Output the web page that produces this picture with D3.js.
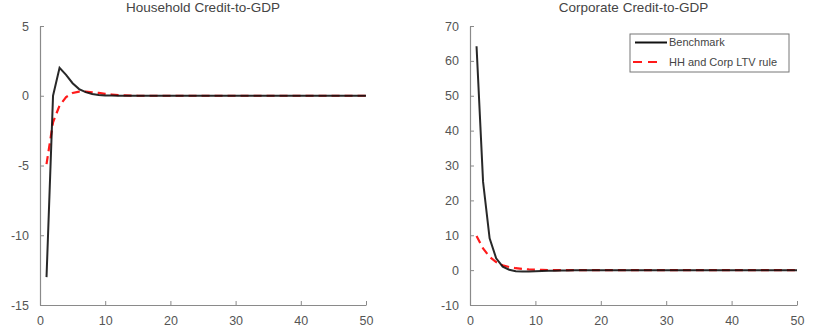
<!DOCTYPE html>
<html><head><meta charset="utf-8">
<script src="https://cdn.jsdelivr.net/npm/d3@7"></script>
<style>
body{margin:0;background:#fff;}
text{font-family:"Liberation Sans",Arial,sans-serif;}
</style></head>
<body><svg id="c" width="814" height="330"></svg>
<script>
const periods = d3.range(1, 51);
const hhBenchmark = [-13, 0, 2.0, 1.5, 0.9, 0.48, 0.26, 0.12, 0.05, 0.02, 0.01, 0, 0, 0, 0, 0, 0, 0, 0, 0,
  0, 0, 0, 0, 0, 0, 0, 0, 0, 0, 0, 0, 0, 0, 0, 0, 0, 0, 0, 0, 0, 0, 0, 0, 0, 0, 0, 0, 0, 0];
const hhLTV = [-4.9, -1.9, -0.7, -0.1, 0.2, 0.3, 0.3, 0.25, 0.2, 0.14, 0.09, 0.05, 0.03, 0.01, 0, 0, 0, 0, 0, 0,
  0, 0, 0, 0, 0, 0, 0, 0, 0, 0, 0, 0, 0, 0, 0, 0, 0, 0, 0, 0, 0, 0, 0, 0, 0, 0, 0, 0, 0, 0];
const corpBenchmark = [64.2, 25.3, 9.1, 3.4, 1.0, 0.1, -0.3, -0.4, -0.4, -0.3, -0.25, -0.2, -0.15, -0.1, -0.1, -0.05, 0, 0, 0, 0,
  0, 0, 0, 0, 0, 0, 0, 0, 0, 0, 0, 0, 0, 0, 0, 0, 0, 0, 0, 0, 0, 0, 0, 0, 0, 0, 0, 0, 0, 0];
const corpLTV = [9.8, 6.2, 3.8, 2.3, 1.4, 0.9, 0.55, 0.35, 0.2, 0.12, 0.07, 0.04, 0.02, 0.01, 0, 0, 0, 0, 0, 0,
  0, 0, 0, 0, 0, 0, 0, 0, 0, 0, 0, 0, 0, 0, 0, 0, 0, 0, 0, 0, 0, 0, 0, 0, 0, 0, 0, 0, 0, 0];
const xTicks = [0, 10, 20, 30, 40, 50];
const hhYTicks = [-15, -10, -5, 0, 5];
const corpYTicks = [-10, 0, 10, 20, 30, 40, 50, 60, 70];
const titles = ["Household Credit-to-GDP", "Corporate Credit-to-GDP"];
const legendLabels = ["Benchmark", "HH and Corp LTV rule"];

const svg = d3.select("#c");
const panels = [
  {title: titles[0], bench: hhBenchmark, ltv: hhLTV, yDomain: [-15, 5], yTicks: hhYTicks, x0: 40, x1: 366, legend: false},
  {title: titles[1], bench: corpBenchmark, ltv: corpLTV, yDomain: [-10, 70], yTicks: corpYTicks, x0: 470, x1: 797, legend: true}
];
const plotTop = 26, plotBottom = 305;
const fmt = d => String(d);

panels.forEach(p => {
  const x = d3.scaleLinear().domain([0, 50]).range([p.x0, p.x1]);
  const y = d3.scaleLinear().domain(p.yDomain).range([plotBottom, plotTop]);
  const g = svg.append("g");

  const xAxis = d3.axisBottom(x).tickValues(xTicks).tickFormat(fmt).tickSizeInner(-4).tickSizeOuter(0).tickPadding(11);
  const yAxis = d3.axisLeft(y).tickValues(p.yTicks).tickFormat(fmt).tickSizeInner(-4).tickSizeOuter(0).tickPadding(11);
  const gx = g.append("g").attr("transform", `translate(0,${plotBottom})`).call(xAxis);
  const gy = g.append("g").attr("transform", `translate(${p.x0},0)`).call(yAxis);
  [gx, gy].forEach(a => {
    a.select(".domain").attr("stroke", "#8a8a8a").attr("stroke-width", 1.2);
    a.selectAll(".tick line").attr("stroke", "#8a8a8a");
    a.selectAll(".tick text").attr("fill", "#555").style("font-size", "12.5px");
  });

  g.append("text").attr("x", (p.x0 + p.x1) / 2).attr("y", 12).attr("text-anchor", "middle")
    .attr("fill", "#444").style("font-size", "13.5px").text(p.title);

  const line = d3.line().x((d, i) => x(periods[i])).y(d => y(d));
  g.append("path").datum(p.ltv).attr("d", line).attr("fill", "none")
    .attr("stroke", "#ff1a1a").attr("stroke-width", 2.2).attr("stroke-dasharray", "8,5");
  g.append("path").datum(p.bench).attr("d", line).attr("fill", "none")
    .attr("stroke", "#111").attr("stroke-width", 2).attr("stroke-opacity", 0.9);

  if (p.legend) {
    const lg = g.append("g");
    lg.append("rect").attr("x", 630).attr("y", 34).attr("width", 159).attr("height", 38)
      .attr("fill", "#fff").attr("stroke", "#777").attr("stroke-width", 1);
    lg.append("line").attr("x1", 635).attr("x2", 667).attr("y1", 42.5).attr("y2", 42.5)
      .attr("stroke", "#111").attr("stroke-width", 2);
    lg.append("line").attr("x1", 633).attr("x2", 658).attr("y1", 62).attr("y2", 62)
      .attr("stroke", "#ff1a1a").attr("stroke-width", 2.2).attr("stroke-dasharray", "9,6");
    lg.append("text").attr("x", 669).attr("y", 46).attr("fill", "#444").style("font-size", "11px").text(legendLabels[0]);
    lg.append("text").attr("x", 669).attr("y", 66).attr("fill", "#444").style("font-size", "11px").text(legendLabels[1]);
  }
});
</script></body></html>
